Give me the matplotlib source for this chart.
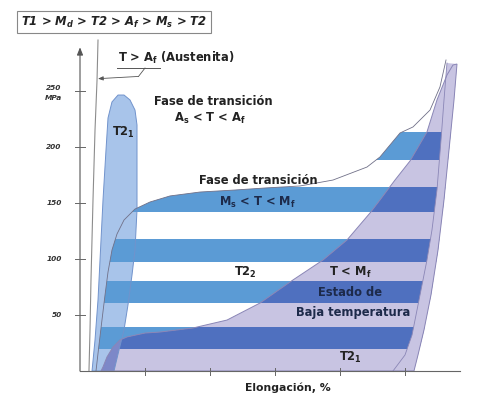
import matplotlib
matplotlib.use("Agg")
import matplotlib.pyplot as plt
from matplotlib.patches import Polygon
import numpy as np

plt.rcParams['font.family'] = ['DejaVu Sans']
plt.rcParams['mathtext.default'] = 'regular'

# ---------------- data (elongation %, stress MPa) ----------------
austenite_x = [0.138, 0.154, 0.169, 0.200, 0.231, 0.262, 0.277]
austenite_y = [0.0, 36.6, 81.3, 152.7, 215.2, 259.8, 295.5]

lobe_x = [0.185, 0.231, 0.277, 0.308, 0.354, 0.400, 0.431, 0.492, 0.585, 0.677,
          0.769, 0.846, 0.877, 0.877, 0.877, 0.846, 0.800, 0.738, 0.677, 0.600, 0.523]
lobe_y = [0.0, 27.7, 63.4, 99.1, 152.7, 197.3, 225.9, 240.2, 246.4, 246.4,
          242.0, 233.0, 219.6, 179.5, 143.8, 108.0, 85.7, 58.9, 36.6, 18.8, 0.0]

curve_x = [0.246, 0.292, 0.338, 0.385, 0.431, 0.492, 0.569, 0.677, 0.846, 1.077,
           1.385, 1.846, 2.385, 2.846, 3.385, 3.892, 4.415, 4.615, 4.923, 5.123,
           5.385, 5.538, 5.631]
curve_y = [0.0, 23.2, 45.5, 67.9, 88.4, 108.0, 122.3, 134.8, 144.6, 150.9,
           156.3, 159.8, 161.6, 163.4, 165.2, 170.5, 182.1, 191.1, 212.5, 217.9,
           233.0, 253.6, 277.7]

band_right_x = [5.646, 5.600, 5.554, 5.492, 5.415, 5.338, 5.231, 5.108, 5.000, 4.815]
band_right_y = [275.0, 242.0, 206.3, 161.6, 125.9, 99.1, 67.9, 32.1, 14.3, 0.0]

purple_left_x = [0.323, 0.354, 0.415, 0.508, 0.615, 0.723, 1.000, 1.231, 1.738, 2.262,
                 2.769, 3.277, 3.738, 4.108, 4.462, 4.615, 4.846, 5.077, 5.338, 5.492,
                 5.646, 5.738]
purple_left_y = [0.0, 3.6, 12.5, 21.4, 27.7, 30.4, 33.9, 34.8, 38.4, 45.5,
                 60.7, 81.3, 99.1, 117.0, 141.1, 152.7, 170.5, 187.5, 213.4, 242.0,
                 264.3, 273.2]
purple_right_x = [5.800, 5.754, 5.677, 5.600, 5.508, 5.400, 5.292, 5.200, 5.138]
purple_right_y = [274.1, 242.0, 197.3, 152.7, 108.0, 67.9, 36.6, 14.3, 0.0]

bands = [(20, 39), (61, 80), (97, 118), (142, 164), (188, 213)]

y_ticks = [50, 100, 150, 200, 250]
y_tick_labels = ["50", "100", "150", "200", "250"]
x_ticks = [1, 2, 3, 4, 5]

# ---------------- figure ----------------
fig = plt.figure(figsize=(4.79, 3.96), dpi=100)
ax = fig.add_axes([0, 0, 1, 1])
ax.set_xlim(-1.2308, 6.1385)
ax.set_ylim(-22.32, 331.25)
ax.axis('off')

C_BAND = '#5b9bd5'
C_BAND_DARK = '#4f70bf'
C_PURPLE = '#c8c4e2'
C_LOBE = '#a8c4ea'
C_LOBE_PURPLE = '#7d88c8'

lobe_xy = np.column_stack([lobe_x, lobe_y])
band_xy = np.vstack([np.column_stack([curve_x, curve_y]),
                     np.column_stack([band_right_x, band_right_y])])
purple_xy = np.vstack([np.column_stack([purple_left_x, purple_left_y]),
                       np.column_stack([purple_right_x, purple_right_y])])
strip_xy = np.vstack([np.column_stack([band_right_x, band_right_y]),
                      np.column_stack([purple_right_x, purple_right_y])[::-1]])

# lobe
ax.add_patch(Polygon(lobe_xy, closed=True, fc=C_LOBE, ec='none', zorder=1))

# light bands clipped to banded region
band_clip = Polygon(band_xy, closed=True, transform=ax.transData)
for y0, y1 in bands:
    r = ax.axhspan(y0, y1, fc=C_BAND, ec='none', zorder=2)
    r.set_clip_path(band_clip)

# purple low-temperature region
ax.add_patch(Polygon(purple_xy, closed=True, fc=C_PURPLE, ec='none', zorder=3))
purple_clip = Polygon(purple_xy, closed=True, transform=ax.transData)
for y0, y1 in bands:
    r = ax.axhspan(y0, y1, fc=C_BAND_DARK, ec='none', zorder=4)
    r.set_clip_path(purple_clip)
ax.add_patch(Polygon(strip_xy, closed=True, fc=C_PURPLE, ec='none', zorder=5))

# overlap lobe / purple
lobe_clip = Polygon(lobe_xy, closed=True, transform=ax.transData)
ov = Polygon(purple_xy, closed=True, fc=C_LOBE_PURPLE, ec='none', zorder=6)
ax.add_patch(ov)
ov.set_clip_path(lobe_clip)

# outlines
ax.add_patch(Polygon(lobe_xy, closed=True, fill=False, ec='#7193cc', lw=0.7, zorder=7))
ax.plot(curve_x, curve_y, color='#707088', lw=0.6, zorder=7)
ax.add_patch(Polygon(purple_xy, closed=True, fill=False, ec='#8a86b6', lw=0.7, zorder=7))
ax.plot(band_right_x, band_right_y, color='#8a86b6', lw=0.6, zorder=7)
ax.plot(austenite_x, austenite_y, color='#8c8c8c', lw=0.8, zorder=7)

# axes lines
ax.annotate('', xy=(0, 289), xytext=(0, 0),
            arrowprops=dict(arrowstyle='-|>,head_length=0.45,head_width=0.18',
                            color='#555555', lw=0.8, shrinkA=0, shrinkB=0), zorder=8)
ax.plot([0, 5.85], [0, 0], color='#666666', lw=0.8, zorder=8)
for yt in y_ticks:
    ax.plot([-0.07, 0.07], [yt, yt], color='#666666', lw=0.7, zorder=8)
for xt in x_ticks:
    ax.plot([xt, xt], [3, -4], color='#666666', lw=0.7, zorder=8)

lab_kw = dict(fontsize=5.3, fontweight='bold', style='italic', color='#333333',
              ha='right', va='center')
for yt, lab in zip(y_ticks, y_tick_labels):
    if yt == 250:
        ax.text(-0.28, 252.7, lab, **lab_kw)
        ax.text(-0.28, 243.5, "MPa", **lab_kw)
    else:
        ax.text(-0.28, yt, lab, **lab_kw)

ax.text(3.2, -15.2, "Elongación, %", fontsize=7.8, fontweight='bold',
        color='#222222', ha='center', va='center')

# title box
ax.text(0.523, 311.6, "T1 > M$_d$ > T2 > A$_f$ > M$_s$ > T2", fontsize=8.4,
        fontweight='bold', style='italic', color='#222222', ha='center', va='center',
        bbox=dict(boxstyle='square,pad=0.3', fc='white', ec='#888888', lw=0.8))

tk = dict(fontsize=8.3, fontweight='bold', color='#222222', ha='center', va='center', zorder=10)
ax.text(0.585, 279.5, "T > A$_f$ (Austenita)", fontsize=8.3, fontweight='bold',
        color='#222222', ha='left', va='center', zorder=10)
ax.plot([0.569, 1.231], [270.5, 270.5], color='#555555', lw=0.7, zorder=10)
ax.plot([1.0, 0.9], [270.5, 263.0], color='#555555', lw=0.6, zorder=10)
ax.annotate('', xy=(0.277, 261.0), xytext=(0.9, 263.0),
            arrowprops=dict(arrowstyle='-|>,head_length=0.3,head_width=0.12',
                            color='#555555', lw=0.6, shrinkA=0, shrinkB=0), zorder=10)
ax.text(2.046, 240.2, "Fase de transición", **tk)
ax.text(2.0, 225.9, "A$_s$ < T < A$_f$", **tk)
ax.text(2.738, 170.5, "Fase de transición", **tk)
ax.text(2.723, 150.9, "M$_s$ < T < M$_f$", **dict(tk, color='#1d2a4a'))
ax.text(0.662, 213.4, "T2$_1$", **tk)
ax.text(2.538, 88.4, "T2$_2$", **tk)
ax.text(4.154, 88.4, "T < M$_f$", **tk)
ax.text(4.154, 70.5, "Estado de", **dict(tk, color='#1d2a4a'))
ax.text(4.2, 51.8, "Baja temperatura", **dict(tk, color='#1d2a4a'))
ax.text(4.154, 12.5, "T2$_1$", **tk)

fig.savefig("out.png", dpi=100)
